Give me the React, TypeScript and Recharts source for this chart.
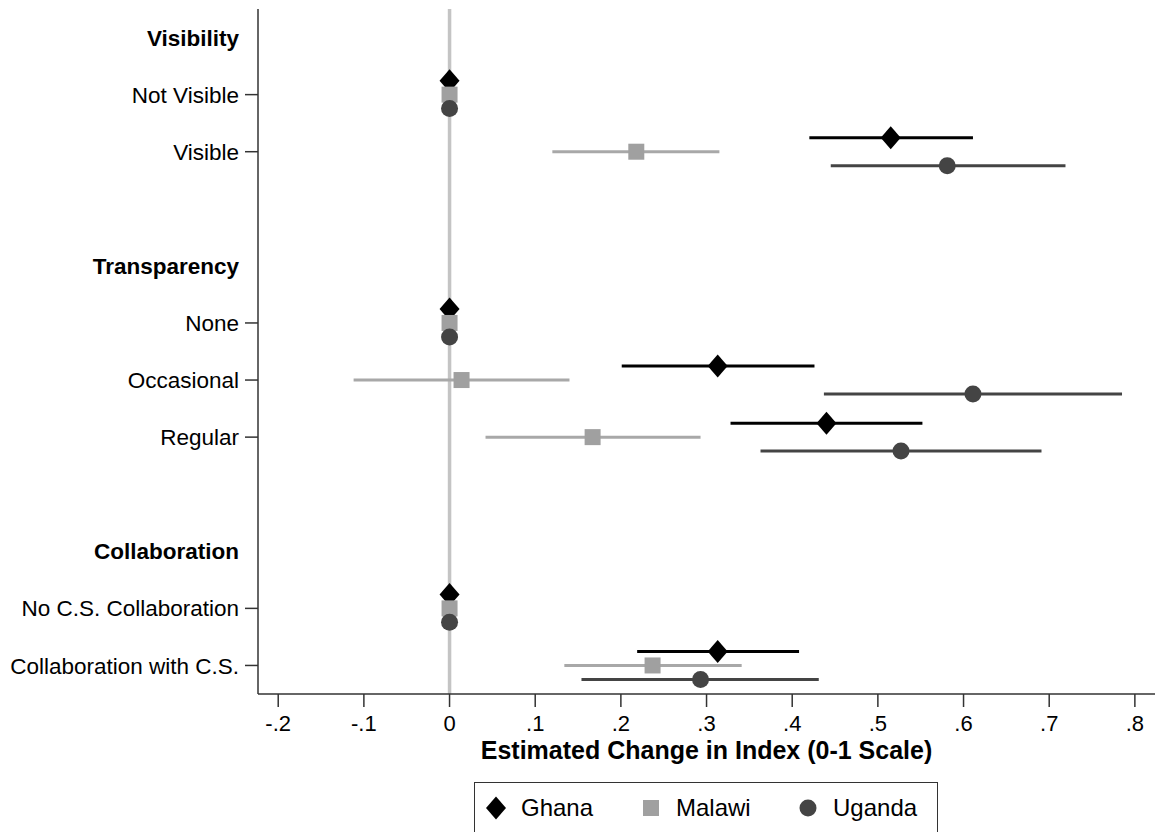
import React from "react";
import {
  ScatterChart,
  Scatter,
  XAxis,
  YAxis,
  ErrorBar,
  ReferenceLine,
} from "recharts";

const ROW_LABELS = [
  "Visibility",
  "Not Visible",
  "Visible",
  "",
  "Transparency",
  "None",
  "Occasional",
  "Regular",
  "",
  "Collaboration",
  "No C.S. Collaboration",
  "Collaboration with C.S.",
];
const HEADER_ROWS = [0, 4, 9];
const ESTIMATE_ROWS = [1, 2, 5, 6, 7, 10, 11];

const ghanaEst = [0, 0.515, 0, 0.313, 0.44, 0, 0.313];
const ghanaLo = [0, 0.42, 0, 0.201, 0.328, 0, 0.219];
const ghanaHi = [0, 0.611, 0, 0.426, 0.552, 0, 0.408];

const malawiEst = [0, 0.218, 0, 0.014, 0.167, 0, 0.237];
const malawiLo = [0, 0.12, 0, -0.112, 0.042, 0, 0.134];
const malawiHi = [0, 0.315, 0, 0.14, 0.293, 0, 0.341];

const ugandaEst = [0, 0.581, 0, 0.611, 0.527, 0, 0.293];
const ugandaLo = [0, 0.445, 0, 0.437, 0.363, 0, 0.154];
const ugandaHi = [0, 0.719, 0, 0.785, 0.691, 0, 0.431];

const X_TICKS = [-0.2, -0.1, 0, 0.1, 0.2, 0.3, 0.4, 0.5, 0.6, 0.7, 0.8];

const FONT = "'Liberation Sans', Arial, sans-serif";
const OFFSET = 0.245;

const build = (est: number[], lo: number[], hi: number[], shift: number) =>
  ESTIMATE_ROWS.map((row, i) => ({
    x: est[i],
    y: row + shift,
    err: [est[i] - lo[i], hi[i] - est[i]],
  }));

const ghanaData = build(ghanaEst, ghanaLo, ghanaHi, -OFFSET);
const malawiData = build(malawiEst, malawiLo, malawiHi, 0);
const ugandaData = build(ugandaEst, ugandaLo, ugandaHi, OFFSET);

const formatX = (v: number) =>
  v === 0 ? "0" : v.toFixed(1).replace("0.", ".");

const Diamond = (props: any) => {
  const { cx, cy, fill } = props;
  return (
    <path
      d={`M${cx},${cy - 11.5}L${cx + 10},${cy}L${cx},${cy + 11.5}L${cx - 10},${cy}Z`}
      fill={fill}
    />
  );
};

const Square = (props: any) => {
  const { cx, cy, fill } = props;
  return <rect x={cx - 8} y={cy - 8} width={16} height={16} fill={fill} />;
};

const Dot = (props: any) => {
  const { cx, cy, fill } = props;
  return <circle cx={cx} cy={cy} r={8.5} fill={fill} />;
};

const RowTick = (props: any) => {
  const { x, y, payload } = props;
  const row = payload.value;
  const label = ROW_LABELS[row];
  if (!label) return null;
  const header = HEADER_ROWS.includes(row);
  return (
    <g>
      {!header && (
        <line x1={x - 13} y1={y} x2={x} y2={y} stroke="#333" strokeWidth={1.5} />
      )}
      <text
        x={x - 19}
        y={y}
        dy="0.36em"
        textAnchor="end"
        fontFamily={FONT}
        fontSize={22.5}
        fontWeight={header ? "bold" : "normal"}
        fill="#000"
      >
        {label}
      </text>
    </g>
  );
};

const LEGEND = [
  { name: "Ghana", color: "#000000", shape: "diamond" },
  { name: "Malawi", color: "#a0a0a0", shape: "square" },
  { name: "Uganda", color: "#444444", shape: "circle" },
];

export default function App() {
  return (
    <div style={{ position: "absolute", left: 0, top: 0, width: 1157, height: 832, background: "#fff" }}>
      <ScatterChart
        width={1157}
        height={832}
        margin={{ top: 9, right: 2, bottom: 98, left: 0 }}
      >
        <XAxis
          type="number"
          dataKey="x"
          domain={[-0.2236, 0.8235]}
          ticks={X_TICKS}
          tickFormatter={formatX}
          allowDataOverflow
          stroke="#333"
          strokeWidth={1.5}
          tickSize={13}
          tickMargin={8}
          height={40}
          tick={{ fontFamily: FONT, fontSize: 22, fill: "#000" }}
          label={{
            value: "Estimated Change in Index (0-1 Scale)",
            position: "bottom",
            offset: 7,
            style: { fontFamily: FONT, fontSize: 25, fontWeight: "bold", fill: "#000" },
          }}
        />
        <YAxis
          type="number"
          dataKey="y"
          domain={[-0.5, 11.5]}
          reversed
          ticks={ROW_LABELS.map((_, i) => i)}
          interval={0}
          allowDataOverflow
          width={258}
          stroke="#333"
          strokeWidth={1.5}
          tickLine={false}
          tickSize={0}
          tickMargin={0}
          tick={<RowTick />}
        />
        <ReferenceLine x={0} stroke="#c4c4c4" strokeWidth={3.5} />
        <Scatter
          name="Ghana"
          data={ghanaData}
          fill="#000000"
          shape={<Diamond />}
          isAnimationActive={false}
        >
          <ErrorBar dataKey="err" direction="x" width={0} stroke="#000000" strokeWidth={3} />
        </Scatter>
        <Scatter
          name="Malawi"
          data={malawiData}
          fill="#a0a0a0"
          shape={<Square />}
          isAnimationActive={false}
        >
          <ErrorBar dataKey="err" direction="x" width={0} stroke="#a8a8a8" strokeWidth={3} />
        </Scatter>
        <Scatter
          name="Uganda"
          data={ugandaData}
          fill="#444444"
          shape={<Dot />}
          isAnimationActive={false}
        >
          <ErrorBar dataKey="err" direction="x" width={0} stroke="#444444" strokeWidth={3} />
        </Scatter>
      </ScatterChart>
      <div
        style={{
          position: "absolute",
          left: 474,
          top: 782,
          width: 464,
          height: 60,
          border: "1.5px solid #333",
          boxSizing: "border-box",
          fontFamily: FONT,
          fontSize: 24,
        }}
      >
        {LEGEND.map((item, i) => (
          <div
            key={item.name}
            style={{
              position: "absolute",
              left: [9, 164, 321][i],
              top: 12,
              display: "flex",
              alignItems: "center",
            }}
          >
            <svg width={24} height={26}>
              {item.shape === "diamond" && (
                <path d="M12,1.5L22,13L12,24.5L2,13Z" fill={item.color} />
              )}
              {item.shape === "square" && (
                <rect x={4} y={5} width={16} height={16} fill={item.color} />
              )}
              {item.shape === "circle" && (
                <circle cx={12} cy={13} r={8.5} fill={item.color} />
              )}
            </svg>
            <span style={{ marginLeft: 13, lineHeight: "26px" }}>{item.name}</span>
          </div>
        ))}
      </div>
    </div>
  );
}
